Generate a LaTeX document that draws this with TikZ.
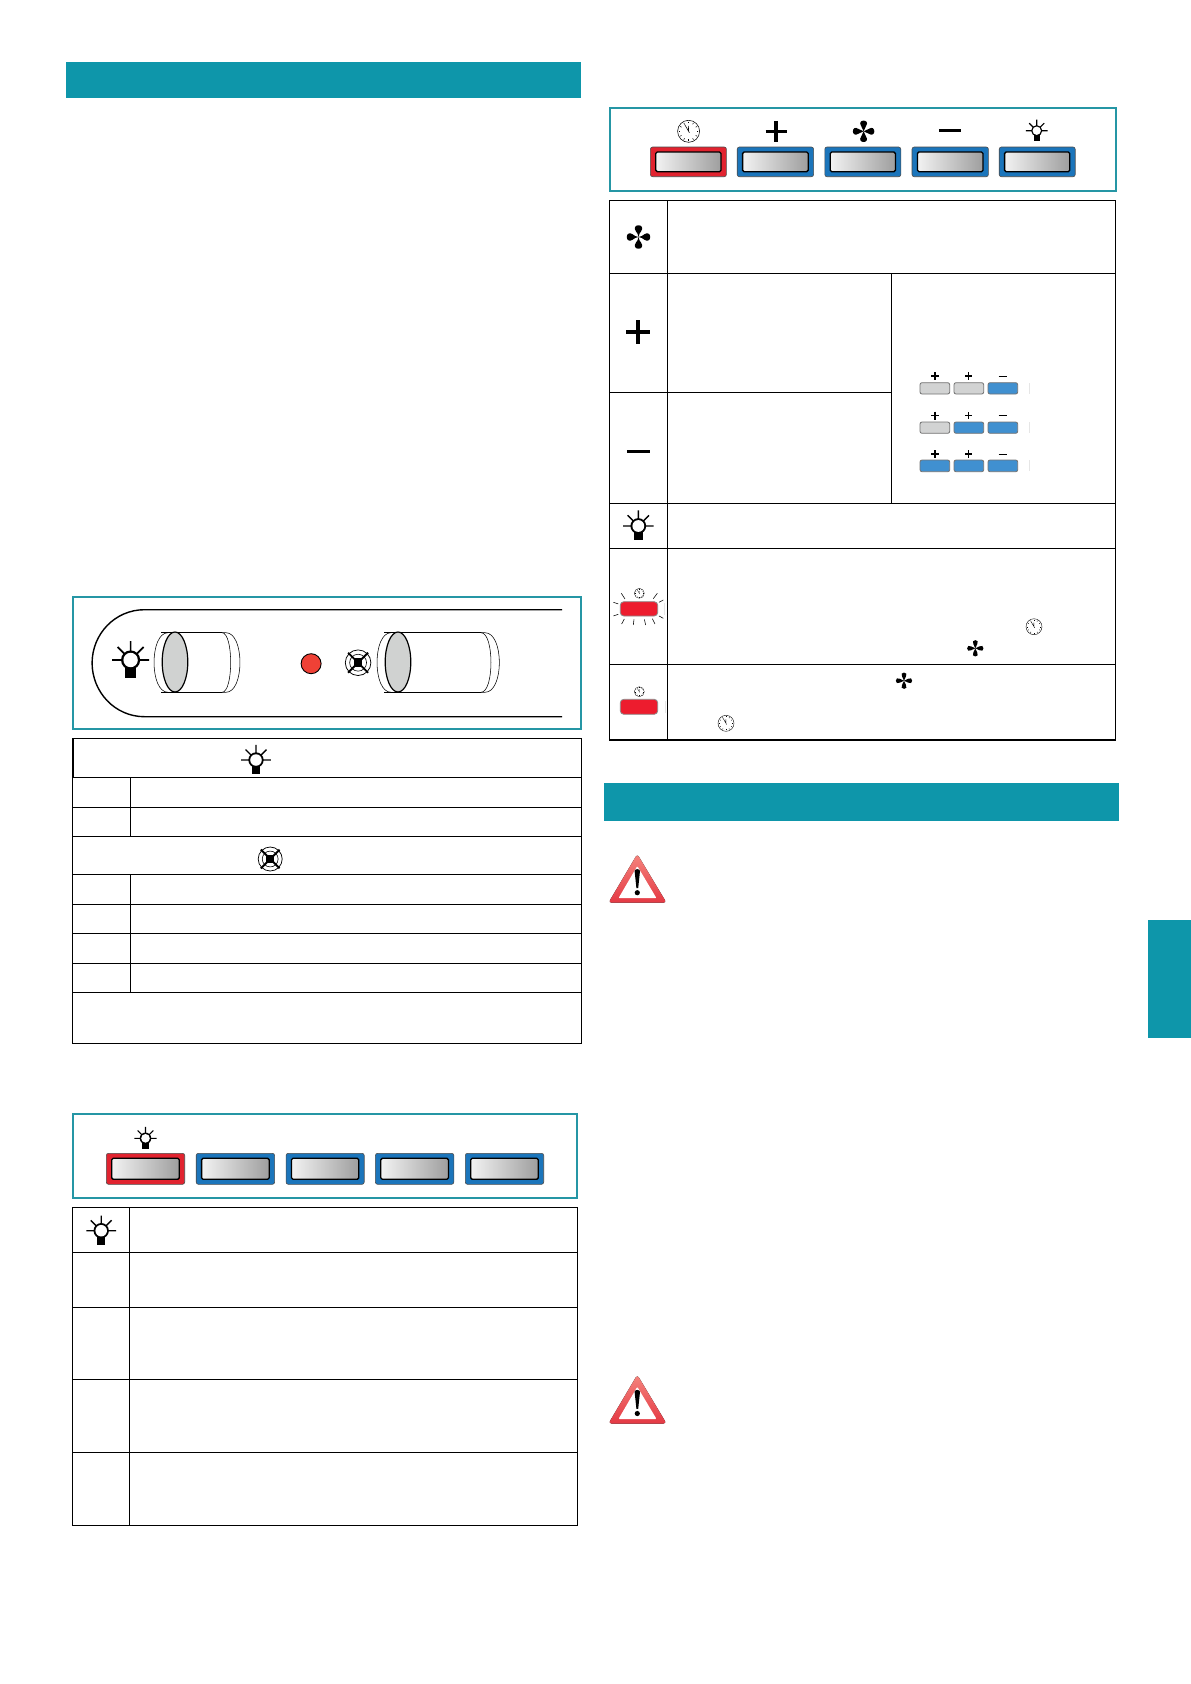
\documentclass[tikz,border=0pt]{standalone}
\definecolor{headteal}{HTML}{0E96AA}
\definecolor{frameteal}{HTML}{2596A5}
\definecolor{btnred}{HTML}{E1232F}
\definecolor{btnblue}{HTML}{1B75BB}
\definecolor{softblue}{HTML}{4090D0}
\definecolor{softgray}{HTML}{D2D3D3}
\definecolor{cylgray}{HTML}{D0D2D1}
\definecolor{ledred}{HTML}{EF4136}
\definecolor{lampred}{HTML}{ED1C2E}
\definecolor{faint}{HTML}{E6E6E6}
\tikzset{
  x=1pt,y=-1pt,
  headband/.style={fill=headteal,draw=none},
  framebox/.style={draw=frameteal,line width=2pt},
  tableline/.style={draw=black,line width=1.05pt},
  outline/.style={draw=black,line width=1.4pt},
  lampbtn/.style={fill=lampred,draw=black!45,line width=.8pt,rounded corners=3.5pt}
}
\newcommand\bulbicon[4]{%
  \begin{scope}[shift={(#1,#2)},scale=#3]
    \draw[line width=#4] (-18.6,0)--(-8,0) (8,0)--(18.6,0) (0,-19)--(0,-8)
       (-13,-13)--(-5.5,-5.5) (13,-13)--(5.5,-5.5);
    \fill (-5.2,6.5) rectangle (5.2,17.6);
    \fill (0,0) circle[radius=9.6];
    \fill[white] (0,0) circle[radius=7.2];
  \end{scope}}
\newcommand\fanicon[3]{%
  \begin{scope}[shift={(#1,#2)},scale=#3]
    \foreach \a in {0,90,180,270}{
      \fill[black,rotate=\a] (0,0) .. controls (.03,-.25) and (.12,-.35) .. (.24,-.52)
        .. controls (.44,-.8) and (.26,-1.02) .. (0,-1.02)
        .. controls (-.26,-1.02) and (-.44,-.8) .. (-.24,-.52)
        .. controls (-.12,-.35) and (-.03,-.25) .. (0,0);
    }
  \end{scope}}
\newcommand\clockicon[4]{%
  \begin{scope}[shift={(#1,#2)},scale=#3]
    \draw[fill=white,line width=#4] (0,0) circle[radius=1];
    \foreach \a in {0,30,...,330}{
      \draw[line width=#4,rotate=\a] (0,-.88)--(0,-.74);
    }
    \draw[line width=#4] (0,0)--(-.36,-.62) (0,0)--(-.02,-.5) (0,0)--(.08,.14);
  \end{scope}}
\newcommand\fanoff[3]{%
  \begin{scope}[shift={(#1,#2)},scale=#3]
    \draw[fill=white,line width=.75pt] (0,0) circle[radius=1];
    \draw[line width=.6pt] (0,0) circle[radius=.66];
    \draw[line width=1.9pt] (-.78,-.78)--(.78,.78) (-.78,.78)--(.78,-.78);
    \fill (-.34,-.34) rectangle (.34,.34);
  \end{scope}}
\newcommand\cyl[5]{%
  \draw[line width=.55pt] ({#2+7},632.7) -- (#3,632.7) ({#2+7},692.3) -- (#3,692.3);
  \draw[line width=.55pt] ({#1-7},632.7) .. controls ({#1-7-(#1-7-#2)*1.33},632.7) and ({#1-7-(#1-7-#2)*1.33},692.3) .. ({#1-7},692.3);
  \draw[line width=.55pt] (#3,632.7) -- ({#3+4},632.7) .. controls ({#3+4+(#5-#3-4)*1.33},632.7) and ({#3+4+(#5-#3-4)*1.33},692.3) .. ({#3+4},692.3) -- (#3,692.3);
  \draw[line width=.55pt] (#3,632.7) .. controls ({#3+(#4-#3)*1.33},632.7) and ({#3+(#4-#3)*1.33},692.3) .. (#3,692.3);
  \draw[fill=cylgray,line width=1.2pt] (#1,662) ellipse[x radius=12.8,y radius=30];
}
\newcommand\bigbtn[5]{%
  \draw[fill=#5,draw=black!70,line width=.6pt,rounded corners=2.2pt] (#1,#3) rectangle (#2,#4);
  \draw[left color=black!5,right color=black!38,draw=black,line width=1.3pt,rounded corners=1.5pt]
     ({#1+5.4},{#3+5}) rectangle ({#2-5.4},{#4-5});
}
\newcommand\smallbtn[5]{%
  \draw[fill=#5,draw=black!55,line width=.8pt,rounded corners=2pt] (#1,#3) rectangle (#2,#4);
}
\newcommand\plusicon[4]{%
  \draw[line width=#4] ({#1-#3},#2)--({#1+#3},#2) (#1,{#2-#3})--(#1,{#2+#3});
}
\newcommand\minusicon[4]{%
  \draw[line width=#4] ({#1-#3},#2)--({#1+#3},#2);
}
\newcommand\warnsign[1]{%
  \begin{scope}[yshift=-#1pt]
    \fill[rounded corners=3pt,top color=ledred!65!white,bottom color=btnred!90!white]
      (637.3,854)--(666.5,902.7)--(608.5,902.7)--cycle;
    \fill[white,rounded corners=1pt] (637.3,866)--(656.5,898.2)--(618.5,898.2)--cycle;
    \fill[black] (634.6,871) .. controls (634.8,868.5) and (639.8,868.5) .. (640,871)
       -- (638.2,888) -- (636.4,888) -- cycle;
    \fill[black] (637.3,892.7) circle[radius=2.6];
  \end{scope}}
\begin{document}
\begin{tikzpicture}
\useasboundingbox (0,0) rectangle (1191,1684);
\fill[white] (0,0) rectangle (1191,1684);
% bands
\fill[headband] (66,61.5) rectangle (581,98);
\fill[headband] (603.6,783) rectangle (1119,820.7);
\fill[headband] (1148,920) rectangle (1191,1037.7);

% ---- hood diagram
\draw[framebox] (72.5,596.7) rectangle (580.6,729);
\draw[outline] (562,609.7) -- (144.5,609.7) .. controls (115,609.7) and (92.1,634) .. (92.1,663)
   .. controls (92.1,692) and (115,716.7) .. (144.5,716.7) -- (562,716.7);
\cyl{175}{154}{222}{230.7}{240}
\cyl{398}{377}{481}{491}{499.4}
\draw[fill=ledred,line width=.9pt] (311.1,663.7) circle[radius=10];
\fanoff{358.1}{662.7}{12.8}
\bulbicon{130.6}{660}{1}{1.7pt}

% ---- table 1
\draw[tableline] (72.8,738.3) rectangle (581.2,1043.3);
\draw[line width=1.6pt] (73,738.3)--(73,777.3);
\foreach \yy in {777.3,807.3,836.3,874.3,904.3,933.3,963.3,992.3}{
  \draw[tableline] (72.8,\yy)--(581.2,\yy);
}
\draw[tableline] (130.3,777.3)--(130.3,836.3) (130.3,874.3)--(130.3,992.3);
\bulbicon{256}{760}{.8}{1.4pt}
\fanoff{270.2}{859}{12}

% ---- button panel 2
\draw[framebox] (72.8,1114) rectangle (577.2,1198.3);
\bigbtn{106.3}{184.7}{1153.3}{1184.3}{btnred}
\bigbtn{196.2}{274.6}{1153.3}{1184.3}{btnblue}
\bigbtn{286.1}{364.2}{1153.3}{1184.3}{btnblue}
\bigbtn{375.4}{453.8}{1153.3}{1184.3}{btnblue}
\bigbtn{465.3}{543.7}{1153.3}{1184.3}{btnblue}
\bulbicon{145.5}{1138.3}{.6}{1.1pt}

% ---- table 2
\draw[tableline] (72.8,1207.3) rectangle (577.2,1525.3);
\foreach \yy in {1252.3,1307.3,1379.3,1452.3}{
  \draw[tableline] (72.8,\yy)--(577.2,\yy);
}
\draw[tableline] (129.3,1207.3)--(129.3,1525.3);
\bulbicon{101.2}{1230.7}{.8}{1.4pt}

% ---- button panel 3
\draw[framebox] (609.5,108) rectangle (1115.5,190.7);
\bigbtn{650.4}{726.4}{147}{176.7}{btnred}
\bigbtn{737.2}{813.6}{147}{176.7}{btnblue}
\bigbtn{824.8}{900.8}{147}{176.7}{btnblue}
\bigbtn{912}{988.4}{147}{176.7}{btnblue}
\bigbtn{999.2}{1075.2}{147}{176.7}{btnblue}
\clockicon{688.6}{131.3}{11}{.55pt}
\plusicon{776}{131.3}{10.5}{3.2pt}
\fanicon{863.6}{131.3}{10.5}
\minusicon{949.8}{130.7}{11}{2.8pt}
\bulbicon{1036.7}{130.7}{.58}{1.1pt}

% ---- table 3
\draw[tableline] (609.5,200.3) rectangle (1115.5,740);
\foreach \yy in {273.3,503.3,548.3,664.3}{
  \draw[tableline] (609.5,\yy)--(1115.5,\yy);
}
\draw[tableline] (609.5,392.3)--(891.5,392.3);
\draw[tableline] (667.5,200.3)--(667.5,740);
\draw[tableline] (891.5,273.3)--(891.5,503.3);
\fanicon{638.5}{237}{11.5}
\plusicon{638}{332}{12}{3.4pt}
\minusicon{638.3}{451.3}{11.5}{3pt}
\bulbicon{638.3}{526}{.82}{1.4pt}

% small speed buttons
\smallbtn{920}{949.7}{382.7}{394}{softgray}
\smallbtn{954}{983.7}{382.7}{394}{softgray}
\smallbtn{988}{1017.7}{382.7}{394}{softblue}
\smallbtn{920}{949.7}{422}{433.3}{softgray}
\smallbtn{954}{983.7}{422}{433.3}{softblue}
\smallbtn{988}{1017.7}{422}{433.3}{softblue}
\smallbtn{920}{949.7}{460}{471.7}{softblue}
\smallbtn{954}{983.7}{460}{471.7}{softblue}
\smallbtn{988}{1017.7}{460}{471.7}{softblue}
\foreach \yy in {376,415.7,454}{
  \plusicon{935}{\yy}{4}{1.1pt}
  \plusicon{968.7}{\yy}{3.7}{1.1pt}
  \minusicon{1002.7}{\yy}{4}{1pt}
}
\draw[faint,line width=.7pt] (1029.3,383)--(1029.3,394) (1029.3,422)--(1029.3,433) (1029.3,460)--(1029.3,471);

% flashing red button
\draw[lampbtn] (620.3,601.7) rectangle (657.7,616);
\clockicon{639.3}{593.3}{5}{.3pt}
\begin{scope}[shift={(600,360)},scale=.3333]
  \draw[line width=.55pt] (64,700)--(75,717) (172,700)--(160,716) (190,720)--(177,727)
     (40,727)--(55,732) (40,768)--(55,763) (190,775)--(177,768)
     (65,792)--(73,777) (100,795)--(102,778) (137,795)--(133,778) (165,792)--(157,776);
\end{scope}
\draw[faint,line width=.7pt] (664.3,603)--(664.3,615);
% steady red button
\draw[lampbtn] (620.3,699.3) rectangle (657.7,714.3);
\clockicon{639.3}{691.7}{5}{.3pt}
\draw[faint,line width=.7pt] (665.3,701)--(665.3,713);
% inline symbols
\clockicon{1034}{626.7}{8}{.4pt}
\fanicon{975.3}{648.3}{8}
\fanicon{904}{680.7}{8}
\clockicon{726}{723.3}{8}{.4pt}

% warnings
\warnsign{0}
\warnsign{520.8}
\end{tikzpicture}
\end{document}
